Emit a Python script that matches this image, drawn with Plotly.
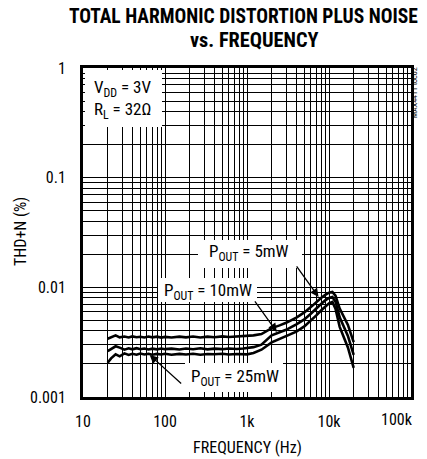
import math
import plotly.graph_objects as go

# ---------------- data ----------------
freq_hz = [20, 22, 25, 28, 32, 36, 40, 45, 50, 56, 63, 70, 80, 90, 100, 120, 150, 180,
           220, 270, 330, 400, 500, 600, 750, 900, 1000, 1200, 1500, 2000, 2500, 3000,
           4000, 5000, 6000, 7000, 8000, 9000, 10000, 11000, 12000, 13500, 15000, 17000, 20000]

thd_5mw = [0.00340, 0.00352, 0.00365, 0.00350, 0.00356, 0.00349, 0.00357, 0.00351, 0.00354,
           0.00349, 0.00356, 0.00350, 0.00355, 0.00348, 0.00353, 0.00349, 0.00355, 0.00350,
           0.00356, 0.00349, 0.00355, 0.00351, 0.00357, 0.00352, 0.00356, 0.00358, 0.00360,
           0.00365, 0.00375, 0.00425, 0.00450, 0.00475, 0.00530, 0.00590, 0.00660, 0.00735,
           0.00800, 0.00855, 0.00895, 0.00910, 0.00840, 0.00640, 0.00540, 0.00454, 0.00317]

thd_10mw = [0.00262, 0.00275, 0.00290, 0.00282, 0.00270, 0.00278, 0.00272, 0.00279, 0.00273,
            0.00277, 0.00271, 0.00276, 0.00272, 0.00277, 0.00273, 0.00276, 0.00271, 0.00277,
            0.00273, 0.00278, 0.00272, 0.00276, 0.00273, 0.00277, 0.00274, 0.00277, 0.00279,
            0.00285, 0.00300, 0.00365, 0.00390, 0.00410, 0.00460, 0.00510, 0.00575, 0.00645,
            0.00705, 0.00760, 0.00800, 0.00815, 0.00740, 0.00533, 0.00445, 0.00360, 0.00242]

thd_25mw = [0.00205, 0.00225, 0.00245, 0.00235, 0.00250, 0.00242, 0.00248, 0.00243, 0.00249,
            0.00244, 0.00248, 0.00243, 0.00247, 0.00244, 0.00248, 0.00243, 0.00247, 0.00244,
            0.00248, 0.00243, 0.00247, 0.00245, 0.00248, 0.00244, 0.00247, 0.00244, 0.00245,
            0.00252, 0.00270, 0.00315, 0.00338, 0.00355, 0.00395, 0.00440, 0.00495, 0.00555,
            0.00615, 0.00670, 0.00715, 0.00735, 0.00640, 0.00436, 0.00357, 0.00283, 0.00184]

x_tick_vals = [10, 100, 1000, 10000]
x_tick_text = ["10", "100", "1k", "10k"]
x_last_tick = "100k"          # drawn right-aligned at the right edge
y_tick_vals = [0.001, 0.01, 0.1, 1]
y_tick_text = ["0.001", "0.01", "0.1", "1"]

# label arrow targets (frequency, THD+N)
label_5mw = (7460, 0.00817)
label_10mw = (2310, 0.00392)
label_25mw = (65, 0.00242)

# ---------------- layout helpers ----------------
PAGE_W, PAGE_H = 427, 459
OFF = 8                      # default page body margin
W, H = PAGE_W - OFF, PAGE_H - OFF
L, R, T, B = 83, 411, 68, 397  # plot area in page pixels
FONT = "Roboto Condensed, Liberation Sans Narrow, Arial Narrow, sans-serif"


def px(X):
    return (X - L) / (R - L)


def py(Y):
    return (B - Y) / (B - T)


def minor_vals(lo, hi):
    vals = []
    e = lo
    while 10 ** e < hi:
        for m in range(2, 10):
            vals.append(m * 10 ** e)
        e += 1
    return vals


fig = go.Figure()
for ser in (thd_5mw, thd_10mw, thd_25mw):
    fig.add_trace(go.Scatter(x=freq_hz, y=ser, mode="lines",
                             line=dict(color="black", width=2.6), showlegend=False,
                             hoverinfo="skip"))

axis_common = dict(type="log", showline=True, linecolor="black", linewidth=3, mirror=True,
                   showgrid=True, gridcolor="black", gridwidth=1, zeroline=False, ticks="",
                   tickfont=dict(family=FONT, size=16, color="black"),
                   ticklabeloverflow="allow", automargin=False)

fig.update_xaxes(range=[1, 5], tickmode="array", tickvals=x_tick_vals, ticktext=x_tick_text,
                 ticklabelstandoff=8,
                 minor=dict(tickmode="array", tickvals=minor_vals(1, 100000), showgrid=True,
                            gridcolor="black", gridwidth=1, ticks=""),
                 **axis_common)
fig.update_yaxes(range=[-3, 0], tickmode="array", tickvals=y_tick_vals, ticktext=y_tick_text,
                 ticklabelstandoff=11,
                 minor=dict(tickmode="array", tickvals=[v / 1000 for v in minor_vals(0, 1000)],
                            showgrid=True, gridcolor="black", gridwidth=1, ticks=""),
                 **axis_common)

# white boxes behind labels
boxes = [(85, 162, 70, 127), (198, 302, 240, 268), (158, 257, 278, 302), (185, 283, 363, 392)]
for x0, x1, y0, y1 in boxes:
    fig.add_shape(type="rect", xref="paper", yref="paper", x0=px(x0), x1=px(x1),
                  y0=py(y1), y1=py(y0), fillcolor="white", line=dict(width=0),
                  layer="above")

ann = []
lab_font = dict(family=FONT, size=17, color="black")
ann.append(dict(xref="paper", yref="paper", x=px(92), y=py(99), xanchor="left",
                yanchor="middle", align="left", showarrow=False, font=lab_font,
                text="V<sub>DD</sub> = 3V<br>R<sub>L</sub> = 32Ω"))
for txt, cx, cy in [("P<sub>OUT</sub> = 5mW", 249, 253),
                    ("P<sub>OUT</sub> = 10mW", 208, 291),
                    ("P<sub>OUT</sub> = 25mW", 235, 377)]:
    ann.append(dict(xref="paper", yref="paper", x=px(cx), y=py(cy), xanchor="center",
                    yanchor="middle", showarrow=False, font=lab_font, text=txt))

for (f, v), (dx, dy) in [(label_5mw, (-23, -32)), (label_10mw, (-23, -32)),
                          (label_25mw, (33, 30))]:
    ann.append(dict(xref="x", yref="y", x=math.log10(f), y=math.log10(v), text="",
                    showarrow=True, ax=dx, ay=dy, axref="pixel", ayref="pixel",
                    arrowhead=2, arrowsize=1.3, arrowwidth=1.3, arrowcolor="black"))

tick_font = dict(family=FONT, size=16, color="black")
ann.append(dict(xref="paper", yref="paper", x=px(415), y=py(419), xanchor="right",
                yanchor="middle", showarrow=False, font=tick_font, text=x_last_tick))

title_font = dict(family=FONT, size=19.5, color="black", weight="bold")
ann.append(dict(xref="paper", yref="paper", x=px(243), y=py(17), xanchor="center",
                yanchor="middle", showarrow=False, font=title_font,
                text="TOTAL HARMONIC DISTORTION PLUS NOISE"))
ann.append(dict(xref="paper", yref="paper", x=px(254), y=py(40), xanchor="center",
                yanchor="middle", showarrow=False,
                font=dict(family=FONT, size=20.3, color="black", weight="bold"),
                text="vs. FREQUENCY"))

ax_font = dict(family=FONT, size=16, color="black")
ann.append(dict(xref="paper", yref="paper", x=px(247), y=py(447), xanchor="center",
                yanchor="middle", showarrow=False, font=ax_font, text="FREQUENCY (Hz)"))
ann.append(dict(xref="paper", yref="paper", x=px(20), y=py(232), xanchor="center",
                yanchor="middle", showarrow=False, font=ax_font, text="THD+N (%)",
                textangle=-90))
ann.append(dict(xref="paper", yref="paper", x=px(414), y=py(92), xanchor="center",
                yanchor="middle", showarrow=False,
                font=dict(family=FONT, size=8, color="black"), text="MAX4411 toc02",
                textangle=-90))

fig.update_layout(width=W, height=H,
                  margin=dict(l=L - OFF, r=PAGE_W - R, t=T - OFF, b=(OFF + H) - B, pad=0,
                              autoexpand=False),
                  plot_bgcolor="white", paper_bgcolor="white", annotations=ann)

fig.write_html("out.html")
